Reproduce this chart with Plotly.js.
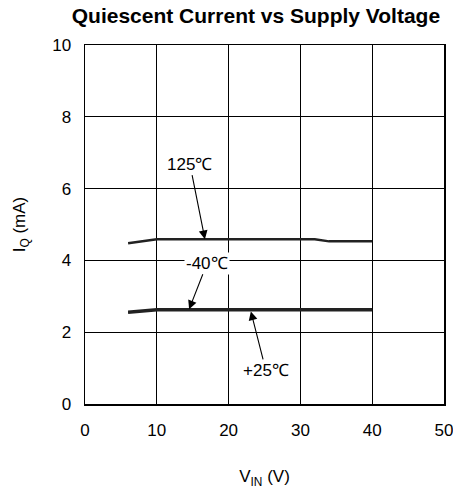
<!DOCTYPE html>
<html>
<head>
<meta charset="utf-8">
<script src="https://cdn.plot.ly/plotly-3.0.1.min.js"></script>
<style>html,body{margin:0;padding:0;background:#fff;}#chart{width:453px;height:489px;}</style>
</head>
<body>
<div id="chart"></div>
<script>
// Data
const vin125 = [6, 10, 15, 20, 25, 30, 32, 34, 40];
const iq125  = [4.48, 4.59, 4.59, 4.59, 4.59, 4.59, 4.59, 4.53, 4.53];
const vinM40 = [6, 10, 20, 30, 40];
const iqM40  = [2.57, 2.64, 2.64, 2.64, 2.64];
const vin25  = [6, 10, 20, 30, 40];
const iq25   = [2.54, 2.61, 2.61, 2.61, 2.61];
const xTicks = [0, 10, 20, 30, 40, 50];
const yTicks = [0, 2, 4, 6, 8, 10];
const labels = ['125℃', '-40℃', '+25℃'];
const labelTips = [[16.7, 4.59], [14.5, 2.64], [23.1, 2.58]];

const font = 'Liberation Sans, Arial, sans-serif';
const traces = [
  {x: vin125, y: iq125, mode: 'lines', line: {color: '#222', width: 2.5}, name: labels[0]},
  {x: vinM40, y: iqM40, mode: 'lines', line: {color: '#222', width: 2.5}, name: labels[1]},
  {x: vin25, y: iq25, mode: 'lines', line: {color: '#222', width: 2.5}, name: labels[2]}
];

const offsets = [[-15, -75], [18, -46], [15, 59]];
const annotations = labels.map((t, i) => ({
  x: labelTips[i][0], y: labelTips[i][1], xref: 'x', yref: 'y',
  text: t, showarrow: true, arrowhead: 2, arrowsize: 1.6, arrowwidth: 1.1,
  arrowcolor: '#000', ax: offsets[i][0], ay: offsets[i][1], standoff: 0,
  bgcolor: i === 1 ? '#fff' : 'rgba(0,0,0,0)', borderpad: 1,
  font: {family: font, size: 17, color: '#000'}
}));

const layout = {
  width: 453, height: 489,
  margin: {l: 85, r: 9, t: 45, b: 85},
  paper_bgcolor: '#fff', plot_bgcolor: '#fff',
  showlegend: false,
  title: {text: '<b>Quiescent Current vs Supply Voltage</b>', x: 0.565, xanchor: 'center', y: 0.967, yanchor: 'middle',
          font: {family: font, size: 21, color: '#000'}},
  xaxis: {range: [0, 50], tickvals: xTicks, ticktext: xTicks.map(String), showgrid: true, gridcolor: '#000', gridwidth: 1,
          zeroline: false, showline: true, linecolor: '#000', linewidth: 1.5, mirror: true,
          ticks: 'outside', ticklen: 10, tickcolor: 'rgba(0,0,0,0)', ticklabeloverflow: 'allow',
          tickfont: {family: font, size: 17, color: '#000'},
          title: {text: 'V<sub>IN</sub> (V)', standoff: 32, font: {family: font, size: 17, color: '#000'}}},
  yaxis: {range: [0, 10], tickvals: yTicks, ticktext: yTicks.map(String), showgrid: true, gridcolor: '#000', gridwidth: 1,
          zeroline: false, showline: true, linecolor: '#000', linewidth: 1.5, mirror: true,
          ticks: 'outside', ticklen: 9, tickcolor: 'rgba(0,0,0,0)', ticklabeloverflow: 'allow',
          tickfont: {family: font, size: 17, color: '#000'},
          title: {text: 'I<sub>Q</sub> (mA)', standoff: 22, font: {family: font, size: 17, color: '#000'}}},
  annotations: annotations
};

Plotly.newPlot('chart', traces, layout, {displayModeBar: false, staticPlot: true});
</script>
</body>
</html>
